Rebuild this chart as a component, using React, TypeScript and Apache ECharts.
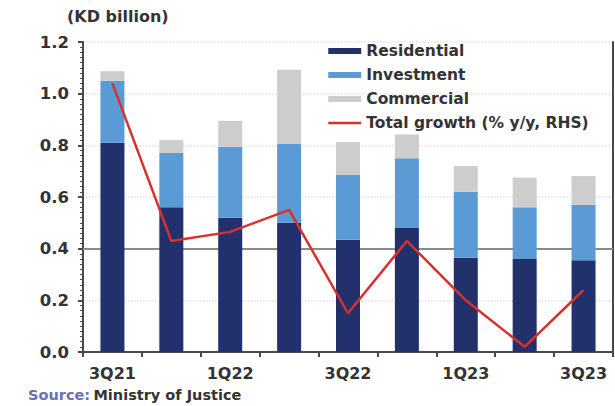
import React, { useEffect, useRef } from "react";
import * as echarts from "echarts";

const categories = ["3Q21", "4Q21", "1Q22", "2Q22", "3Q22", "4Q22", "1Q23", "2Q23", "3Q23"];
const residential = [0.81, 0.56, 0.52, 0.5, 0.435, 0.48, 0.365, 0.36, 0.355];
const investment = [0.24, 0.21, 0.275, 0.305, 0.25, 0.27, 0.255, 0.2, 0.215];
const commercial = [0.037, 0.05, 0.1, 0.288, 0.128, 0.092, 0.1, 0.115, 0.111];
const totalGrowth = [64, 3, 6.5, 15, -25, 3, -20, -38, -16];
const leftTicks = { min: 0, max: 1.2, interval: 0.2 };
const rightTicks = { min: -40, max: 80, interval: 20 };

const FONT = "DejaVu Sans";
const TXT = "#333333";
const RED = "#d8312b";

export default function App() {
  const ref = useRef<HTMLDivElement>(null);
  useEffect(() => {
    if (!ref.current) return;
    const chart = echarts.init(ref.current, undefined, { renderer: "svg" });
    chart.setOption({
      animation: false,
      backgroundColor: "#ffffff",
      textStyle: { fontFamily: FONT, color: TXT },
      title: {
        text: "(KD billion)",
        left: 62,
        top: 3,
        textStyle: { fontFamily: FONT, fontSize: 16, fontWeight: "bold", color: TXT },
      },
      legend: {
        orient: "vertical",
        left: 322,
        top: 38,
        itemWidth: 33,
        itemHeight: 6,
        itemGap: 8,
        textStyle: { fontFamily: FONT, fontSize: 15.5, fontWeight: "bold", color: TXT },
        data: [
          { name: "Residential", icon: "rect" },
          { name: "Investment", icon: "rect" },
          { name: "Commercial", icon: "rect" },
          {
            name: "Total growth (% y/y, RHS)",
            itemStyle: { opacity: 0 },
            lineStyle: { color: RED, width: 2.5 },
          },
        ],
      },
      grid: { left: 83, right: 2, top: 42, bottom: 54, containLabel: false },
      xAxis: {
        type: "category",
        data: categories,
        boundaryGap: true,
        axisLine: { lineStyle: { color: "#4a4a4a", width: 2 } },
        axisTick: { show: true, interval: 0, length: 5, lineStyle: { color: "#4a4a4a", width: 2 } },
        axisLabel: {
          interval: 1,
          margin: 13,
          fontFamily: FONT,
          fontSize: 16,
          fontWeight: "bold",
          color: TXT,
        },
      },
      yAxis: [
        {
          type: "value",
          min: leftTicks.min,
          max: leftTicks.max,
          interval: leftTicks.interval,
          axisLine: { show: true, lineStyle: { color: "#4a4a4a", width: 2 } },
          axisTick: { show: true, length: 5, lineStyle: { color: "#4a4a4a", width: 2 } },
          minorTick: { show: true, splitNumber: 10, length: 3, lineStyle: { color: "#4a4a4a", width: 1 } },
          axisLabel: {
            margin: 14,
            fontFamily: FONT,
            fontSize: 16.5,
            fontWeight: "bold",
            color: TXT,
            formatter: (v: number) => v.toFixed(1),
          },
          splitLine: { show: true, lineStyle: { color: "#e2e2e2", type: "dotted", width: 1.5 } },
        },
        {
          type: "value",
          min: rightTicks.min,
          max: rightTicks.max,
          interval: rightTicks.interval,
          position: "right",
          axisLine: { show: true, lineStyle: { color: "#4a4a4a", width: 2 } },
          axisTick: { show: false },
          axisLabel: { show: false },
          splitLine: { show: false },
        },
      ],
      series: [
        {
          name: "Residential",
          type: "bar",
          stack: "total",
          barWidth: 24,
          itemStyle: { color: "#22306c" },
          data: residential,
        },
        {
          name: "Investment",
          type: "bar",
          stack: "total",
          barWidth: 24,
          itemStyle: { color: "#5b9bd5" },
          data: investment,
        },
        {
          name: "Commercial",
          type: "bar",
          stack: "total",
          barWidth: 24,
          itemStyle: { color: "#cdcdcd" },
          data: commercial,
        },
        {
          name: "Total growth (% y/y, RHS)",
          type: "line",
          yAxisIndex: 1,
          symbol: "none",
          showSymbol: false,
          lineStyle: { color: RED, width: 2.5 },
          itemStyle: { color: RED },
          z: 5,
          data: totalGrowth,
          markLine: {
            silent: true,
            symbol: ["none", "none"],
            label: { show: false },
            lineStyle: { color: "#8a8a8a", type: "solid", width: 2 },
            data: [{ yAxis: 0 }],
            z: 1,
          },
        },
      ],
      graphic: [
        {
          type: "text",
          left: 28,
          top: 387,
          style: {
            text: "{a|Source:} {b|Ministry of Justice}",
            rich: {
              a: { fontFamily: FONT, fontSize: 14.5, fontWeight: "bold", fill: "#6b6fb3" },
              b: { fontFamily: FONT, fontSize: 14.5, fontWeight: "bold", fill: "#333333" },
            },
          },
        },
      ],
    });
    return () => chart.dispose();
  }, []);
  return (
    <div
      ref={ref}
      style={{ position: "fixed", left: 0, top: 0, width: 615, height: 406 }}
    />
  );
}
